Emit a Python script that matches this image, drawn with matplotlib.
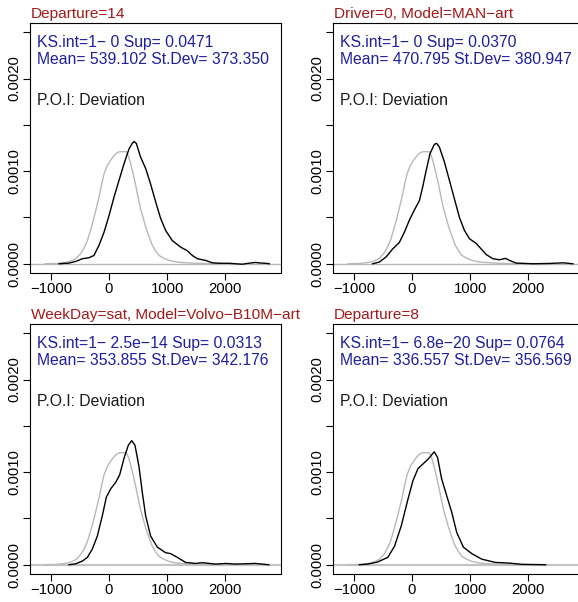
import matplotlib.pyplot as plt

plt.rcParams['font.family'] = ['Liberation Sans', 'DejaVu Sans']

titles = ['Departure=14', 'Driver=0, Model=MAN\u2212art',
          'WeekDay=sat, Model=Volvo\u2212B10M\u2212art', 'Departure=8']
ks_text = ['KS.int=1\u2212 0 Sup= 0.0471', 'KS.int=1\u2212 0 Sup= 0.0370',
           'KS.int=1\u2212 2.5e\u221214 Sup= 0.0313', 'KS.int=1\u2212 6.8e\u221220 Sup= 0.0764']
mean_text = ['Mean= 539.102 St.Dev= 373.350', 'Mean= 470.795 St.Dev= 380.947',
             'Mean= 353.855 St.Dev= 342.176', 'Mean= 336.557 St.Dev= 356.569']
poi_text = 'P.O.I: Deviation'

# overall density (grey), same in every panel
ref_x = [-1100, -900, -800, -700, -630, -560, -487, -430, -372, -315, -258, -215, -172,
         -130, -86, -30, 29, 90, 143, 190, 229, 270, 298, 335, 372, 415, 458, 500, 544,
         590, 630, 690, 745, 800, 860, 940, 1032, 1150, 1261, 1400, 1490, 1700, 2000]
ref_y = [0, 0.000003, 0.00001, 0.00002, 0.000036, 0.00006, 0.00011, 0.00017, 0.00025,
         0.00037, 0.0005, 0.00061, 0.00072, 0.00085, 0.00097, 0.00106, 0.00112, 0.00117,
         0.0012, 0.00121, 0.00121, 0.00121, 0.00121, 0.00116, 0.00108, 0.00097, 0.00085,
         0.00072, 0.00059, 0.00049, 0.0004, 0.00029, 0.0002, 0.00014, 0.00009, 0.00006,
         0.000036, 0.00002, 0.000014, 0.000008, 0.000005, 0.000002, 0]

# subgroup densities (black)
dep14_x = [-860, -688, -573, -458, -344, -258, -172, -86, 0, 86, 172, 258, 344, 400, 430,
           470, 544, 630, 716, 802, 888, 974, 1089, 1232, 1347, 1433, 1519, 1662, 1777,
           1900, 2063, 2292, 2400, 2521, 2600, 2693, 2760]
dep14_y = [0, 0.000007, 0.000025, 0.000054, 0.000065, 0.00009, 0.0002, 0.00034, 0.00052,
           0.00072, 0.0009, 0.00108, 0.00124, 0.0013, 0.00132, 0.0013, 0.00115, 0.00103,
           0.00086, 0.00067, 0.00049, 0.00036, 0.00025, 0.00018, 0.00014, 0.00009,
           0.000054, 0.000036, 0.00001, 0.000005, 0.000005, -0.000005, 0.000005,
           0.000014, 0.000008, 0.000005, 0]

man_x = [-678, -563, -448, -333, -218, -132, -46, 40, 126, 184, 241, 310, 385, 425, 471,
         557, 644, 730, 816, 902, 989, 1103, 1190, 1276, 1391, 1506, 1609, 1678, 1793,
         2080, 2368, 2598, 2770]
man_y = [0, 0.000018, 0.000072, 0.00016, 0.00023, 0.00034, 0.00047, 0.00058, 0.00068,
         0.00083, 0.001, 0.00119, 0.00129, 0.0013, 0.00126, 0.0011, 0.0009, 0.0007,
         0.0005, 0.00036, 0.00027, 0.00022, 0.00016, 0.0001, 0.000054, 0.000043,
         0.000058, 0.000036, 0.000007, 0, 0.000003, 0.00001, 0]

volvo_x = [-688, -573, -458, -372, -287, -201, -115, -46, 29, 115, 183, 258, 332, 390,
           447, 516, 573, 630, 716, 831, 974, 1060, 1175, 1318, 1490, 1605, 1834, 2006,
           2178, 2521, 2750]
volvo_y = [0, 0.00001, 0.00004, 0.00008, 0.00017, 0.00031, 0.00053, 0.00073, 0.00082,
           0.00089, 0.00097, 0.00115, 0.00129, 0.00134, 0.00129, 0.00106, 0.00078,
           0.00053, 0.00031, 0.00019, 0.00013, 0.00012, 0.00008, 0.000025, 0.000014,
           0.000022, 0.000007, 0.000014, 0.000007, 0.000014, 0]

dep8_x = [-907, -763, -590, -416, -301, -185, -69, 17, 104, 191, 277, 382, 439, 509, 595,
          682, 769, 884, 1029, 1202, 1434, 1665, 1896, 2301]
dep8_y = [0, 0.000007, 0.00003, 0.00008, 0.0002, 0.00042, 0.00071, 0.00091, 0.00104,
          0.00109, 0.00114, 0.00122, 0.00116, 0.00093, 0.00075, 0.00057, 0.00035,
          0.00019, 0.00012, 0.00006, 0.000025, 0.000018, 0.000004, 0]

groups = [(dep14_x, dep14_y), (man_x, man_y), (volvo_x, volvo_y), (dep8_x, dep8_y)]

W, H = 578, 602
# panel boxes in pixels: left, top
boxes = [(30, 23), (333, 23), (30, 324), (333, 324)]
bw, bh = 251, 250

fig = plt.figure(figsize=(W / 100, H / 100), dpi=100)

yticks = [0, 0.0005, 0.001, 0.0015, 0.002, 0.0025]
ylabels = ['0.0000', '', '0.0010', '', '0.0020', '']

for i, (left, top) in enumerate(boxes):
    ax = fig.add_axes([left / W, (H - top - bh) / H, bw / W, bh / H])
    gx, gy = groups[i]
    ax.plot(ref_x, ref_y, color='#b8b8b8', lw=1.0)
    ax.plot(gx, gy, color='black', lw=1.0)
    ax.axhline(0, color='#b8b8b8' if i < 2 else '#c4c4c4', lw=1.0 if i < 2 else 1.6, zorder=1)
    ax.set_xlim(-1360, 2960)
    ax.set_ylim(-0.0001, 0.0026)
    ax.set_xticks([-1000, 0, 1000, 2000])
    ax.set_yticks(yticks)
    ax.set_yticklabels(ylabels)
    ax.tick_params(axis='both', direction='out', length=5, width=0.8, labelsize=10.7,
                   pad=1.5)
    ax.tick_params(axis='y', labelrotation=90)
    for lab in ax.get_yticklabels():
        lab.set_va('center')
    for s in ax.spines.values():
        s.set_linewidth(0.8)

    ax.annotate(titles[i], xy=(0, 1), xycoords='axes fraction', xytext=(0.8, 3.6),
                textcoords='offset points', va='baseline', ha='left',
                fontsize=11.1, color='#a31818', annotation_clip=False)
    ax.annotate(ks_text[i], xy=(0, 1), xycoords='axes fraction', xytext=(5, -17.3),
                textcoords='offset points', va='baseline', ha='left',
                fontsize=11.3, color='#1e1e9e')
    ax.annotate(mean_text[i], xy=(0, 1), xycoords='axes fraction', xytext=(5, -29.2),
                textcoords='offset points', va='baseline', ha='left',
                fontsize=11.3, color='#1e1e9e')
    ax.annotate(poi_text, xy=(0, 1), xycoords='axes fraction', xytext=(5, -59.3),
                textcoords='offset points', va='baseline', ha='left',
                fontsize=11.3, color='#1a1a1a')

fig.savefig('out.png', dpi=100)
